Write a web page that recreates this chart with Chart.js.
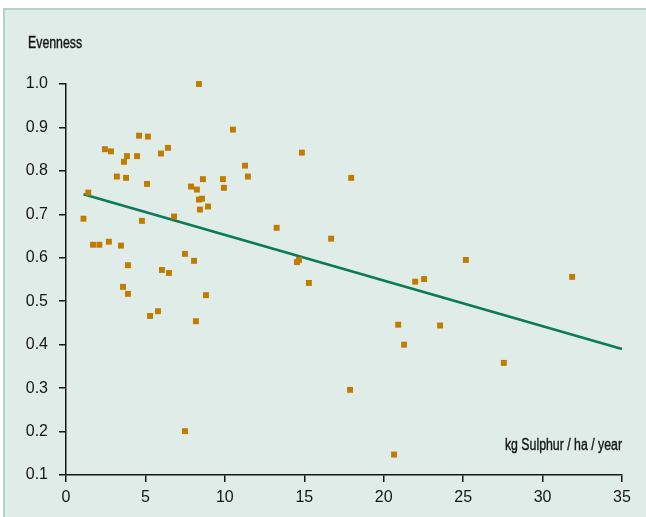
<!DOCTYPE html>
<html>
<head>
<meta charset="utf-8">
<title>Evenness vs sulphur deposition</title>
<script src="https://cdn.jsdelivr.net/npm/chart.js@4.4.0/dist/chart.umd.min.js"></script>
<style>
  html, body { margin: 0; padding: 0; background: #ffffff; overflow: hidden; }
  #panel {
    position: absolute; left: 3px; top: 8px; right: -20px; bottom: -20px;
    background: #e0ece8;
    border-top: 2px solid #b4d2c6;
    border-left: 2px solid #b4d2c6;
  }
  canvas { position: absolute; left: 0; top: 0; display: block; }
</style>
</head>
<body>
<div id="panel"></div>
<canvas id="myChart" width="646" height="517"></canvas>
<script>
// kg sulphur / ha / year
const sulphur = [
  1.1, 1.4, 1.7, 2.1, 2.45, 2.83, 2.7, 3.2, 3.46, 3.65, 3.84, 3.78, 4.47, 4.6,
  5.16, 5.1, 4.78, 5.98, 6.42, 6.8, 8.37, 7.87, 8.24, 8.62, 8.37, 8.56, 8.43,
  8.94, 9.88, 9.94, 10.51, 11.27, 11.45, 13.26, 14.85, 16.69, 17.95, 7.49, 8.06,
  3.9, 6.04, 6.48, 3.59, 3.9, 8.81, 5.29, 5.79, 8.18, 7.49, 14.54, 14.67, 15.29,
  25.17, 31.86, 21.98, 22.54, 20.91, 23.55, 21.28, 27.56, 17.88, 20.65
];
const evenness = [
  0.69, 0.75, 0.63, 0.63, 0.85, 0.845, 0.637, 0.787, 0.628, 0.821, 0.834, 0.784, 0.834, 0.881,
  0.879, 0.77, 0.685, 0.84, 0.853, 0.695, 1.0, 0.764, 0.757, 0.781, 0.734, 0.736, 0.711,
  0.718, 0.781, 0.761, 0.895, 0.812, 0.787, 0.669, 0.842, 0.644, 0.784, 0.609, 0.593,
  0.583, 0.572, 0.565, 0.533, 0.517, 0.514, 0.466, 0.477, 0.454, 0.201, 0.59, 0.595, 0.542,
  0.595, 0.556, 0.545, 0.551, 0.446, 0.444, 0.4, 0.358, 0.296, 0.147
];
// fitted trend line end points
const trendX = [1.1, 35];
const trendY = [0.746, 0.39];

const xTicks = [0, 5, 10, 15, 20, 25, 30, 35];
const yTicks = [0.1, 0.2, 0.3, 0.4, 0.5, 0.6, 0.7, 0.8, 0.9, 1.0];

const FONT = "'Liberation Sans', Arial, sans-serif";
const INK = '#151515';

// draws condensed text (no narrow face installed, so squeeze horizontally)
function narrowText(ctx, text, x, y, align) {
  const squeeze = 0.77;
  ctx.save();
  ctx.translate(x, y);
  ctx.scale(squeeze, 1);
  ctx.textAlign = align;
  ctx.fillText(text, 0, 0);
  ctx.strokeText(text, 0, 0);
  ctx.restore();
}

const labelsPlugin = {
  id: 'labels',
  afterDraw(chart) {
    const ctx = chart.ctx;
    const area = chart.chartArea;
    const y = chart.scales.y;
    ctx.save();
    ctx.fillStyle = INK;
    ctx.strokeStyle = INK;
    ctx.lineWidth = 0.4;
    ctx.font = '16px ' + FONT;
    ctx.textBaseline = 'middle';
    narrowText(ctx, 'Evenness', area.left - 38, area.top - 40, 'left');
    narrowText(ctx, 'kg Sulphur / ha / year', area.right, y.getPixelForValue(0.168), 'right');
    ctx.restore();
  }
};

const points = sulphur.map((s, i) => ({ x: s, y: evenness[i] }));
const trend = trendX.map((t, i) => ({ x: t, y: trendY[i] }));

new Chart(document.getElementById('myChart').getContext('2d'), {
  type: 'scatter',
  data: {
    datasets: [
      {
        label: 'Sites',
        data: points,
        pointStyle: 'rect',
        pointRadius: 4.2,
        pointHoverRadius: 4.2,
        borderWidth: 0,
        backgroundColor: '#c17c00',
        borderColor: '#c17c00',
        clip: false,
        order: 1
      },
      {
        label: 'Trend',
        type: 'line',
        data: trend,
        borderColor: '#0b7a58',
        borderWidth: 2.6,
        pointRadius: 0,
        fill: false,
        clip: false,
        order: 2
      }
    ]
  },
  plugins: [labelsPlugin],
  options: {
    responsive: false,
    animation: false,
    layout: { padding: { left: 0, right: 24, top: 84, bottom: 0 } },
    plugins: { legend: { display: false }, tooltip: { enabled: false } },
    scales: {
      x: {
        type: 'linear',
        min: 0, max: 35,
        afterFit(scale) { scale.height = 42; },
        afterBuildTicks(scale) { scale.ticks = xTicks.map(v => ({ value: v })); },
        border: { display: true, color: INK, width: 1.5 },
        grid: { display: true, drawOnChartArea: false, drawTicks: true, tickLength: 7, color: INK, lineWidth: 1.5 },
        ticks: { color: INK, font: { family: FONT, size: 16 }, padding: 6, maxRotation: 0 }
      },
      y: {
        type: 'linear',
        min: 0.1, max: 1.0,
        afterFit(scale) { scale.width = 66; },
        afterBuildTicks(scale) { scale.ticks = yTicks.map(v => ({ value: v })); },
        border: { display: true, color: INK, width: 1.5 },
        grid: { display: true, drawOnChartArea: false, drawTicks: true, tickLength: 7, color: INK, lineWidth: 1.5 },
        ticks: {
          color: INK, font: { family: FONT, size: 16 }, padding: 11,
          callback: v => v.toFixed(1)
        }
      }
    }
  }
});
</script>
</body>
</html>
